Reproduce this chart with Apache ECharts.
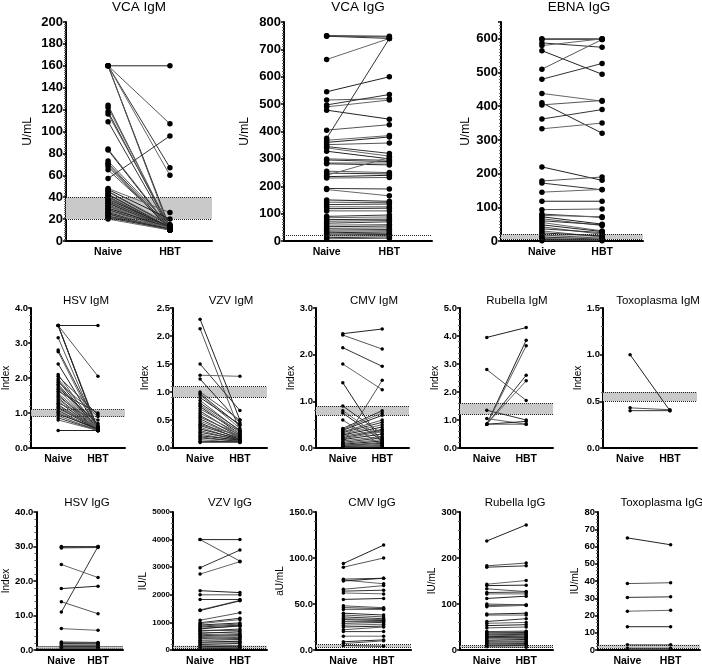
<!DOCTYPE html>
<html>
<head>
<meta charset="utf-8">
<script src="https://cdn.jsdelivr.net/npm/echarts@6/dist/echarts.min.js"></script>
<style>
  html, body { margin: 0; padding: 0; background: #fff; }
  #main { width: 702px; height: 667px; }
</style>
</head>
<body>
<div id="main"></div>
<script>
// ---- data (Naive -> HBT pairs) ----
const categories = ['Naive', 'HBT'];

const vcaIgmNaive = [160,160,160,160,160,160,124,122,118,116,109,84,83,73,71,70,68,65,57,48,47,45.5,45,43,42.5,41,40,39.5,38,37,36,35,34.5,33,32,31.5,30,29,28.5,27,26,25,24.5,23,22.5,22,21,20];
const vcaIgmHbt   = [160,107,67,60,12,10,11,12,11,13,10,12,11,14,12,10,11,13,96,26,20,15,14,13,12,11,12,10,13,11,12,10,11,12,10,11,12,10,11,12,10,11,10,12,11,10,11,10];

const vcaIggNaive = [750,750,748,663,545,515,497,490,478,405,375,368,360,352,345,340,328,300,296,285,282,255,248,240,235,230,192,188,150,142,133,125,118,110,90,85,78,72,65,58,52,46,40,35,30,26,22,18,12,8];
const vcaIggHbt   = [748,745,740,740,600,520,535,515,445,425,740,385,380,358,320,310,300,295,290,285,278,250,245,305,240,232,190,165,145,140,135,125,120,110,95,88,80,75,70,60,55,48,42,38,33,28,24,20,15,10];

const ebnaIggNaive = [600,598,588,580,565,510,480,438,410,404,362,333,220,178,172,145,118,93,80,76,72,66,60,55,48,42,36,30,24,18,12,8,5,3,1];
const ebnaIggHbt   = [600,598,575,600,495,598,527,415,320,417,390,350,180,190,152,153,118,95,70,72,50,46,48,30,28,20,25,12,15,8,5,3,2,4,1];

const hsvIgmNaive = [3.5,3.5,3.5,3.5,3.5,3.15,2.8,2.75,2.4,2.1,2.05,1.98,1.93,1.88,1.82,1.78,1.72,1.68,1.62,1.57,1.52,1.47,1.43,1.38,1.33,1.28,1.24,1.2,1.16,1.12,1.07,1.02,0.97,0.92,0.86,0.8,0.5];
const hsvIgmHbt   = [3.5,2.05,0.5,0.55,0.5,0.5,0.6,0.5,0.55,0.5,0.95,0.6,0.5,0.9,0.55,0.5,0.7,0.5,1.0,0.55,0.5,0.65,0.5,0.6,0.5,0.8,0.5,0.55,0.5,0.6,0.5,0.5,0.55,0.5,0.5,0.5,0.5];

const vzvIgmNaive = [2.3,2.13,1.5,1.3,1.23,1.0,0.97,0.95,0.9,0.85,0.8,0.77,0.74,0.7,0.66,0.62,0.58,0.55,0.52,0.48,0.45,0.42,0.4,0.37,0.34,0.31,0.28,0.25,0.22,0.2,0.18,0.15,0.12,0.1];
const vzvIgmHbt   = [0.5,0.3,0.67,1.28,0.45,0.5,0.4,0.35,0.42,0.3,0.32,0.28,0.25,0.3,0.22,0.26,0.2,0.24,0.18,0.2,0.15,0.22,0.18,0.14,0.16,0.13,0.15,0.12,0.14,0.11,0.12,0.1,0.11,0.1];

const cmvIgmNaive = [2.45,2.42,2.15,1.8,1.4,0.1,0.9,0.8,0.75,0.6,0.42,0.4,0.38,0.35,0.33,0.3,0.28,0.25,0.22,0.2,0.18,0.15,0.12,0.1,0.08,0.06,0.05,0.04,0.03,0.02];
const cmvIgmHbt   = [2.55,2.12,1.75,1.25,0.1,1.45,0.3,0.2,0.15,0.05,0.8,0.75,0.7,0.6,0.55,0.5,0.45,0.4,0.38,0.35,0.3,0.25,0.22,0.18,0.15,0.12,0.1,0.08,0.05,0.03];

const rubIgmNaive = [3.95,2.8,1.35,1.05,0.85,0.85,0.85,0.85,0.85,0.85];
const rubIgmHbt   = [4.3,1.7,1.0,0.85,3.85,3.65,2.6,2.4,0.95,0.85];

const toxoIgmNaive = [1.0,0.43,0.4];
const toxoIgmHbt   = [0.4,0.41,0.4];

const hsvIggNaive = [30,29.8,29.6,24.8,17.8,14,11,6.2,2.3,2.1,1.9,1.5,1.2,1.0,0.8,0.5];
const hsvIggHbt   = [30,29.9,29.7,21,18.5,10.5,30,5.7,2.2,2.0,1.8,1.5,1.2,1.0,0.8,0.5];

const vzvIggNaive = [4000,4000,2980,2750,2150,2000,1830,1450,1430,1080,990,955,905,870,835,790,765,715,690,650,605,570,515,490,445,410,355,330,275,250,195,170,115,85,45];
const vzvIggHbt   = [4000,3220,3620,3200,2080,2000,1830,1800,1780,1350,1150,1100,980,940,900,860,880,700,760,600,660,520,560,500,420,460,380,300,320,260,240,170,140,90,60];

const cmvIggNaive = [94,90,77,76,75,66,64,62,55,48,46,44,40,38,36,34,33,31,29,27,25,22,20,15,9,7,5];
const cmvIggHbt   = [114,100,78,72,78,70,65,61,56,46,45,44,38,36,34,33,32,31,30,28,26,25,20,15,11,10,4];

const rubIggNaive = [237,183,180,143,140,133,125,122,112,100,97,94,78,76,62,58,53,48,40,39,37,35,33,31,29,27,26,24,21,19,17,15,13,11,9,7];
const rubIggHbt   = [272,189,183,151,141,127,126,122,117,98,98,97,80,76,68,60,55,50,41,40,38,36,34,32,30,28,27,25,23,20,18,16,14,12,10,6];

const toxoIggNaive = [65,38.5,30.5,22.5,13.5,3,1,0.5];
const toxoIggHbt   = [61,39,30.8,23,13.5,3,1,0.5];

// reference ranges (low, high)
const refVcaIgm = [20, 40];
const refVcaIgg = [20, 20];
const refEbnaIgg = [5, 20];
const refHsvIgm = [0.9, 1.1];
const refVzvIgm = [0.9, 1.1];
const refCmvIgm = [0.7, 0.9];
const refRubIgm = [1.2, 1.6];
const refToxoIgm = [0.5, 0.6];
const refHsvIgg = [0.5, 1.1];
const refVzvIgg = [50, 150];
const refCmvIgg = [3, 6];
const refRubIgg = [5, 10];
const refToxoIgg = [1, 3];

// ---- panel layout ----
const panels = [
  { title: 'VCA IgM', unit: 'U/mL', naive: vcaIgmNaive, hbt: vcaIgmHbt, ref: refVcaIgm, max: 200, interval: 20, dec: 0, big: true,
    grid: [66, 22, 146, 219], tx: 139, ty: 0, gap: 32 },
  { title: 'VCA IgG', unit: 'U/mL', naive: vcaIggNaive, hbt: vcaIggHbt, ref: refVcaIgg, max: 800, interval: 100, dec: 0, big: true,
    grid: [284, 22, 148, 219], tx: 358, ty: 0, gap: 33 },
  { title: 'EBNA IgG', unit: 'U/mL', naive: ebnaIggNaive, hbt: ebnaIggHbt, ref: refEbnaIgg, max: 650, interval: 100, dec: 0, big: true,
    grid: [501, 22, 142, 219], tx: 579, ty: 0, gap: 29 },

  { title: 'HSV IgM', unit: 'Index', naive: hsvIgmNaive, hbt: hsvIgmHbt, ref: refHsvIgm, max: 4, interval: 1, dec: 1,
    grid: [31, 308, 94, 140], tx: 86, ty: 295, gap: 18 },
  { title: 'VZV IgM', unit: 'Index', naive: vzvIgmNaive, hbt: vzvIgmHbt, ref: refVzvIgm, max: 2.5, interval: 0.5, dec: 1,
    grid: [173, 308, 94, 140], tx: 231, ty: 295, gap: 23 },
  { title: 'CMV IgM', unit: 'Index', naive: cmvIgmNaive, hbt: cmvIgmHbt, ref: refCmvIgm, max: 3, interval: 1, dec: 1,
    grid: [316, 308, 93, 140], tx: 374, ty: 295, gap: 18 },
  { title: 'Rubella IgM', unit: 'Index', naive: rubIgmNaive, hbt: rubIgmHbt, ref: refRubIgm, max: 5, interval: 1, dec: 1,
    grid: [460, 308, 93, 140], tx: 517, ty: 295, gap: 20 },
  { title: 'Toxoplasma IgM', unit: 'Index', naive: toxoIgmNaive, hbt: toxoIgmHbt, ref: refToxoIgm, max: 1.5, interval: 0.5, dec: 1,
    grid: [603, 308, 94, 140], tx: 658, ty: 295, gap: 16 },

  { title: 'HSV IgG', unit: 'Index', naive: hsvIggNaive, hbt: hsvIggHbt, ref: refHsvIgg, max: 40, interval: 10, dec: 1,
    grid: [31, 512, 92, 139], tx: 87, ty: 497, gap: 21 },
  { title: 'VZV IgG', unit: 'IU/L', naive: vzvIggNaive, hbt: vzvIggHbt, ref: refVzvIgg, max: 5000, interval: 1000, dec: 0, small: true,
    grid: [173, 512, 94, 139], tx: 230, ty: 497, gap: 21 },
  { title: 'CMV IgG', unit: 'aU/mL', naive: cmvIggNaive, hbt: cmvIggHbt, ref: refCmvIgg, max: 150, interval: 50, dec: 1,
    grid: [316, 512, 95, 139], tx: 372, ty: 497, gap: 16 },
  { title: 'Rubella IgG', unit: 'IU/mL', naive: rubIggNaive, hbt: rubIggHbt, ref: refRubIgg, max: 300, interval: 100, dec: 0,
    grid: [460, 512, 93, 139], tx: 515, ty: 497, gap: 20 },
  { title: 'Toxoplasma IgG', unit: 'IU/mL', naive: toxoIggNaive, hbt: toxoIggHbt, ref: refToxoIgg, max: 80, interval: 10, dec: 0,
    grid: [598, 512, 102, 139], tx: 662, ty: 497, gap: 10 }
];

const lineColors = ['#222222', '#555555', '#333333', '#666666'];
const FONT = '"Liberation Sans", Arial, sans-serif';

const chart = echarts.init(document.getElementById('main'), null, { renderer: 'canvas' });

const option = { animation: false, textStyle: { fontFamily: FONT }, title: [], grid: [], xAxis: [], yAxis: [], series: [] };

panels.forEach(function (p, i) {
  option.title.push({
    text: p.title, left: p.tx, top: p.ty, textAlign: 'center', padding: 0,
    textStyle: { fontFamily: FONT, fontSize: p.big ? 13.5 : 11.5, fontWeight: 'normal', color: '#000' }
  });
  option.grid.push({ left: p.grid[0], top: p.grid[1], width: p.grid[2], height: p.grid[3] });
  option.xAxis.push({
    type: 'value', gridIndex: i, min: -0.68, max: 1.68,
    axisLine: { show: true, onZero: false, lineStyle: { color: '#000', width: 2 } },
    axisTick: { show: false },
    splitLine: { show: false },
    axisLabel: {
      customValues: [0, 1], margin: 6,
      fontFamily: FONT, fontSize: 10.5, fontWeight: 'bold', color: '#000',
      formatter: function (v) { return categories[Math.round(v)]; }
    }
  });
  option.yAxis.push({
    type: 'value', gridIndex: i, min: 0, max: p.max, interval: p.interval,
    name: p.unit, nameLocation: 'middle', nameRotate: 90, nameGap: p.gap,
    nameTextStyle: { fontFamily: FONT, fontSize: p.big ? 12 : 10, color: '#000' },
    axisLine: { show: true, onZero: false, lineStyle: { color: '#000', width: 2 } },
    axisTick: { show: true, length: 3, lineStyle: { color: '#000', width: 1.5 } },
    minorTick: { show: true, splitNumber: p.big ? 10 : 5, length: 2, lineStyle: { color: '#666', width: 1 } },
    splitLine: { show: false },
    axisLabel: {
      margin: 3, showMaxLabel: p.max % p.interval === 0,
      fontFamily: FONT, fontSize: p.big ? 13 : (p.small ? 8 : 9.5), fontWeight: 'bold', color: '#000',
      formatter: function (v) { return v.toFixed(p.dec); }
    }
  });

  // reference band
  option.series.push({
    type: 'line', xAxisIndex: i, yAxisIndex: i, z: 1, silent: true,
    data: [[0, p.ref[0]]], showSymbol: false, lineStyle: { opacity: 0 },
    markArea: { silent: true, itemStyle: { color: '#c9c9c9' }, data: [[{ yAxis: p.ref[0] }, { yAxis: p.ref[1] }]] },
    markLine: {
      silent: true, symbol: 'none', label: { show: false },
      lineStyle: { type: 'dotted', color: '#222', width: 1 },
      data: [{ yAxis: p.ref[0] }, { yAxis: p.ref[1] }]
    }
  });

  // paired lines
  p.naive.forEach(function (v, j) {
    option.series.push({
      type: 'line', xAxisIndex: i, yAxisIndex: i, z: 3, silent: true,
      data: [[0, v], [1, p.hbt[j]]],
      symbol: 'circle', symbolSize: p.big ? 5.5 : 3.5, showSymbol: true,
      itemStyle: { color: '#000' },
      lineStyle: { color: lineColors[j % lineColors.length], width: 1 }
    });
  });
});

chart.setOption(option);
</script>
</body>
</html>
